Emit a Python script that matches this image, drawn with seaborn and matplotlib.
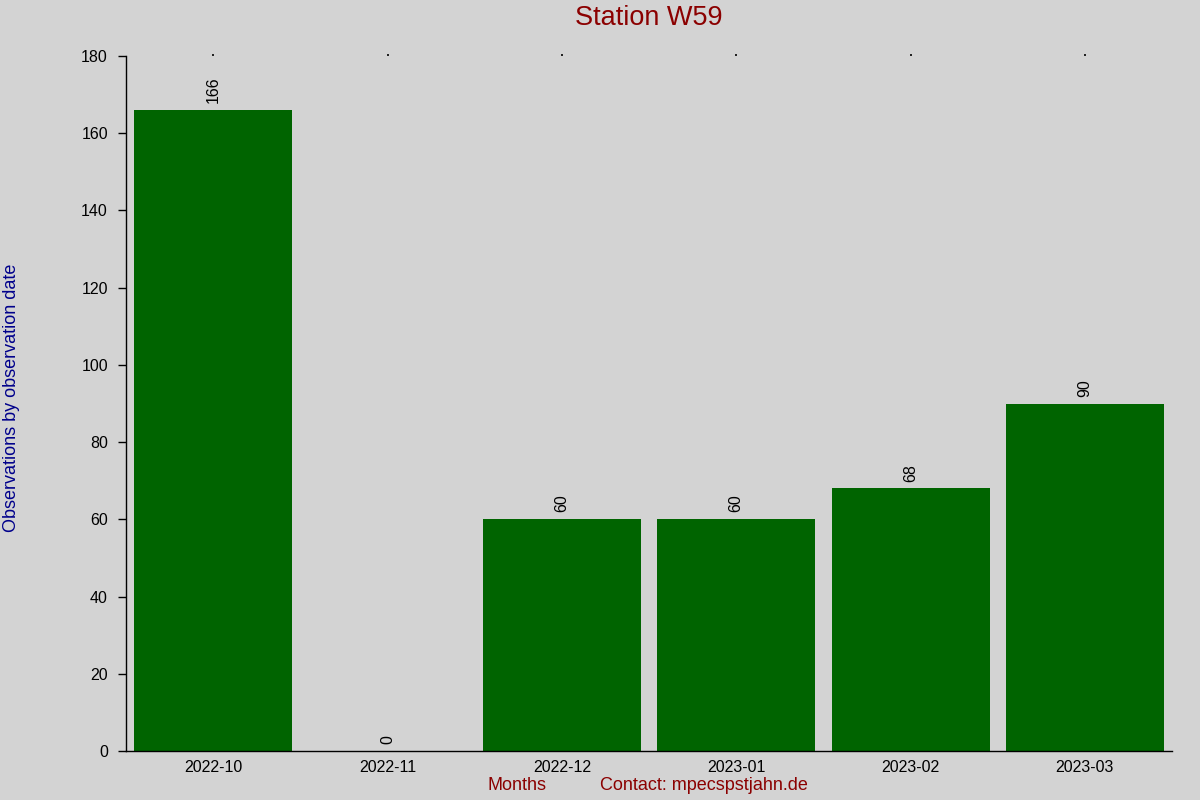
import matplotlib
matplotlib.use("Agg")
import matplotlib.pyplot as plt
import seaborn as sns
import pandas as pd

# chart data
months = ["2022-10", "2022-11", "2022-12", "2023-01", "2023-02", "2023-03"]
observations = [166, 0, 60, 60, 68, 90]

BG = "#d3d3d3"
BAR = "#006400"
RED = "#8b0000"
BLUE = "#00008b"

sns.set_style("ticks")
plt.rcParams["font.family"] = ["Liberation Sans", "DejaVu Sans"]

df = pd.DataFrame({"month": months, "obs": observations})

fig = plt.figure(figsize=(12, 8), dpi=100, facecolor=BG)
ax = fig.add_axes([0.105, 0.06125, 0.8717, 0.86875])
ax.set_facecolor(BG)

sns.barplot(data=df, x="month", y="obs", color=BAR, saturation=1,
            width=0.906, linewidth=0, ax=ax)

ax.bar_label(ax.containers[0], labels=[str(v) for v in observations],
             rotation=90, padding=5, fontsize=11.5, color="black")

ax.set_xlim(-0.5, len(months) - 0.5)
ax.set_ylim(0, 180)
ax.set_yticks(range(0, 181, 20))

sns.despine(ax=ax, top=True, right=True)
ax.spines["left"].set_linewidth(1)
ax.spines["bottom"].set_linewidth(1)
ax.spines["left"].set_color("black")
ax.spines["bottom"].set_color("black")

ax.tick_params(axis="y", length=6, width=1, pad=7, labelsize=11.5,
               colors="black")
ax.tick_params(axis="x", bottom=False, top=True, length=1.2, width=1.2,
               pad=5, labelsize=11.5, colors="black")

ax.set_xlabel("")
ax.set_ylabel("")

fig.text(0.541, 0.977, "Station W59", ha="center", va="center",
         fontsize=19.5, color=RED)
fig.text(0.0095, 0.503, "Observations by observation date", rotation=90,
         ha="center", va="center", fontsize=13, color=BLUE)
fig.text(0.431, 0.018, "Months", ha="center", va="center",
         fontsize=13, color=RED)
fig.text(0.587, 0.018, "Contact: mpecspstjahn.de", ha="center", va="center",
         fontsize=13, color=RED)

fig.savefig("out.png", dpi=100, facecolor=BG)
